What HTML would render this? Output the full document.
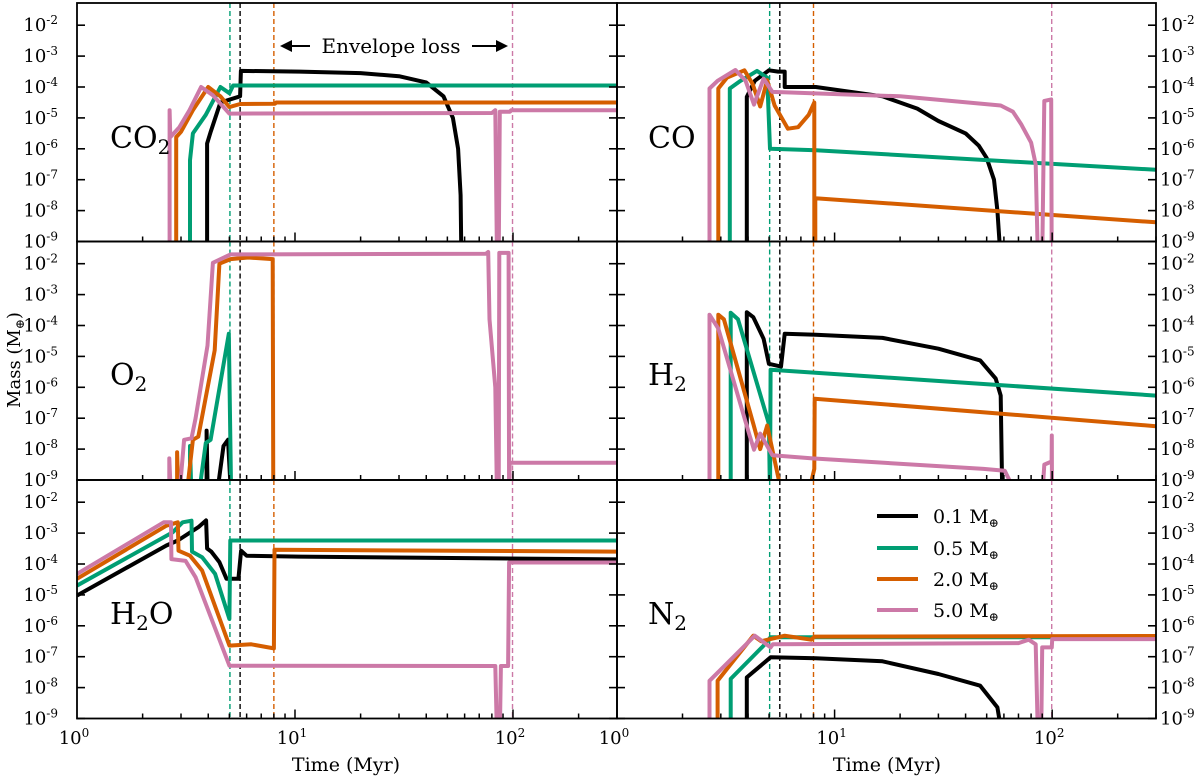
<!DOCTYPE html>
<html><head><meta charset="utf-8"><style>
html,body{margin:0;padding:0;background:#fff;}
svg{display:block;font-family:"DejaVu Serif","Liberation Serif",serif;}
</style></head><body>
<svg id="chart" width="1200" height="779" viewBox="0 0 1200 779" xmlns="http://www.w3.org/2000/svg">
<defs></defs>
</svg>
<script>
// ---- data: [time (Myr), log10 mass (M_earth)] ----
const seriesNames = ["0.1 M", "0.5 M", "2.0 M", "5.0 M"];
const seriesColors = ["#000000", "#009e73", "#d55e00", "#cc79a7"];
const envelopeLossTimes = [5.6, 5.03, 8.0, 99.5];
const yTickExponents = [-2, -3, -4, -5, -6, -7, -8, -9];
const xTickExponents = [0, 1, 2];

const CO2_black = [[3.95,-9.6],[3.95,-5.83],[4.1,-5.46],[4.55,-4.5],[5.6,-4.3],[5.65,-3.48],[10.5,-3.5],[20,-3.55],[30,-3.65],[40,-3.85],[48,-4.3],[53,-5],[56,-6],[57.5,-7.5],[58,-9.6]];
const CO2_green = [[3.3,-9.6],[3.3,-6.37],[3.4,-5.5],[3.9,-4.9],[4.55,-4.0],[5.0,-4.2],[5.2,-3.95],[300,-3.95]];
const CO2_orange = [[2.85,-9.6],[2.85,-5.62],[3.0,-5.45],[3.4,-4.75],[4.0,-4.0],[4.55,-4.3],[5.0,-4.65],[5.6,-4.55],[8.1,-4.54],[8.2,-4.5],[300,-4.5]];
const CO2_pink = [[2.66,-9.6],[2.66,-4.75],[2.68,-5.62],[2.95,-5.3],[3.28,-4.75],[3.71,-4.0],[4.2,-4.27],[5.0,-4.86],[80,-4.84],[83,-4.75],[84.5,-9.6],[86,-9.6],[87,-4.8],[97,-4.8],[98,-4.75],[300,-4.75]];

const CO_black = [[3.95,-9.6],[3.95,-4.32],[4.3,-3.8],[4.99,-3.46],[5.5,-3.5],[5.9,-3.5],[5.9,-4.0],[8.2,-4.0],[16.6,-4.3],[24,-4.7],[30,-5.1],[40,-5.5],[46,-5.9],[50,-6.3],[54,-7.0],[56,-8.0],[58,-9.6]];
const CO_green = [[3.3,-9.6],[3.3,-4.05],[3.7,-3.8],[4.4,-3.48],[4.9,-3.7],[5.05,-6.0],[8.2,-6.05],[300,-6.68]];
const CO_orange = [[2.92,-9.6],[2.92,-4.05],[3.2,-3.7],[3.85,-3.46],[4.2,-3.9],[4.55,-4.63],[4.9,-3.78],[5.3,-4.6],[6.1,-5.35],[6.8,-5.3],[7.6,-4.9],[8.07,-4.5],[8.07,-9.6],[8.15,-9.6],[8.15,-7.6],[300,-8.38]];
const CO_pink = [[2.66,-9.6],[2.66,-4.05],[2.9,-3.8],[3.5,-3.45],[3.9,-3.8],[4.26,-4.57],[4.72,-3.73],[5.18,-4.16],[20,-4.3],[58,-4.6],[66,-4.8],[72,-5.2],[80,-5.8],[84,-6.5],[86,-9.6],[90,-9.6],[92,-4.45],[99,-4.4],[99.5,-9.6]];

const O2_black = [[3.93,-9.6],[3.93,-7.4],[3.98,-9.6],[4.36,-9.6],[4.7,-7.9],[4.93,-7.7],[5.1,-9.6]];
const O2_green = [[3.3,-9.6],[3.3,-7.9],[3.35,-9.6],[3.6,-9.6],[3.9,-7.8],[4.1,-7.7],[4.97,-4.27],[5.1,-9.6]];
const O2_orange = [[2.88,-9.6],[2.88,-8.1],[2.92,-9.6],[3.17,-9.6],[3.4,-7.7],[3.6,-7.6],[4.28,-4.8],[4.5,-2.0],[5.06,-1.85],[6.1,-1.8],[7.9,-1.85],[7.95,-9.6]];
const O2_pink = [[2.65,-9.6],[2.65,-8.3],[2.7,-9.6],[2.94,-9.6],[3.1,-7.7],[3.35,-7.65],[3.5,-7.0],[3.97,-4.65],[4.2,-1.97],[5.06,-1.7],[75,-1.68],[77,-1.62],[78,-3.8],[83,-6],[84.5,-9.6],[86,-9.6],[86.5,-1.65],[95.5,-1.65],[96,-9.6],[96.5,-8.44],[300,-8.44]];

const H2_black = [[3.95,-9.6],[3.95,-3.57],[4.23,-3.73],[4.72,-4.43],[4.99,-5.24],[5.67,-5.33],[5.9,-4.27],[8.2,-4.3],[16.6,-4.4],[30,-4.75],[46.7,-5.13],[55,-5.72],[58,-6.27],[59,-9.6]];
const H2_green = [[3.33,-9.6],[3.33,-3.59],[3.6,-3.8],[4.99,-7.18],[5.05,-9.6],[5.08,-5.43],[300,-6.27]];
const H2_orange = [[2.92,-9.6],[2.92,-3.65],[3.1,-3.8],[4.23,-7.18],[4.55,-8.0],[4.9,-7.24],[5.78,-9.6],[7.5,-9.6],[8.07,-8.64],[8.1,-6.37],[300,-7.26]];
const H2_pink = [[2.66,-9.6],[2.66,-3.65],[2.92,-4.1],[4.07,-7.56],[4.26,-8.02],[4.55,-7.5],[5.18,-8.2],[7.9,-8.3],[48.4,-8.64],[60.5,-8.7],[70,-9.6],[90,-9.6],[92,-8.5],[99.4,-8.4],[99.6,-7.56],[99.8,-9.6]];

const H2O_black = [[1,-5.02],[2.57,-3.4],[2.9,-3.24],[3.6,-2.81],[3.91,-2.59],[3.95,-3.5],[4.13,-3.6],[4.5,-3.94],[4.85,-4.48],[5.5,-4.48],[5.66,-3.57],[6,-3.73],[10.4,-3.76],[300,-3.85]];
const H2O_green = [[1,-4.7],[2.75,-2.97],[3.05,-2.65],[3.35,-2.6],[3.37,-3.6],[3.75,-3.78],[4.3,-4.32],[5.0,-5.78],[5.05,-3.24],[300,-3.24]];
const H2O_orange = [[1,-4.48],[2.57,-2.76],[2.9,-2.65],[2.92,-3.57],[3.3,-3.73],[3.75,-4.21],[5.0,-6.64],[6.3,-6.6],[8.0,-6.73],[8.05,-3.54],[300,-3.6]];
const H2O_pink = [[1,-4.32],[2.5,-2.65],[2.7,-2.65],[2.71,-3.84],[3.15,-3.9],[3.5,-4.43],[5.0,-7.29],[83,-7.3],[84.5,-9.6],[87,-9.6],[88,-7.3],[95,-7.3],[96,-3.95],[300,-3.95]];

const N2_black = [[3.95,-9.6],[3.95,-7.67],[5.08,-7.02],[8.2,-7.05],[16.6,-7.15],[30,-7.56],[46.7,-7.94],[56,-8.64],[59,-9.6]];
const N2_green = [[3.33,-9.6],[3.33,-7.72],[4.72,-6.64],[5.08,-6.37],[300,-6.37]];
const N2_orange = [[2.9,-9.6],[2.9,-7.78],[4.23,-6.32],[4.6,-6.5],[5.9,-6.32],[7.8,-6.45],[8.1,-6.35],[300,-6.33]];
const N2_pink = [[2.66,-9.6],[2.66,-7.78],[4.3,-6.32],[5.08,-6.7],[5.2,-6.6],[70,-6.56],[78,-6.45],[84,-6.6],[86,-9.6],[89,-9.6],[90,-6.7],[99.6,-6.7],[100,-6.43],[300,-6.43]];

const NS = "http://www.w3.org/2000/svg";
const svg = document.getElementById("chart");
const defs = svg.querySelector("defs");
function mk(tag, attrs, parent) {
  const e = document.createElementNS(NS, tag);
  for (const k in attrs) e.setAttribute(k, attrs[k]);
  (parent || svg).appendChild(e);
  return e;
}

const panels = [
  {key:"co2", label:["CO","2"], col:0, row:0, series:[CO2_black,CO2_green,CO2_orange,CO2_pink], lx:110, ly:148},
  {key:"co", label:["CO",""], col:1, row:0, series:[CO_black,CO_green,CO_orange,CO_pink], lx:648, ly:148},
  {key:"o2", label:["O","2"], col:0, row:1, series:[O2_black,O2_green,O2_orange,O2_pink], lx:110, ly:385},
  {key:"h2", label:["H","2"], col:1, row:1, series:[H2_black,H2_green,H2_orange,H2_pink], lx:648, ly:385},
  {key:"h2o", label:["H","2","O"], col:0, row:2, series:[H2O_black,H2O_green,H2O_orange,H2O_pink], lx:110, ly:624},
  {key:"n2", label:["N","2"], col:1, row:2, series:[N2_black,N2_green,N2_orange,N2_pink], lx:648, ly:624}
];
const colX = [[77,617],[617,1156]];
const rowY = [[3,241.5],[241.5,480],[480,718.5]];
const DEC_Y = 30.9;
const LOGMAX = Math.log10(300);

panels.forEach(function(p, pi) {
  const x0 = colX[p.col][0], x1 = colX[p.col][1];
  const y0 = rowY[p.row][0], y1 = rowY[p.row][1];
  const xs = function(t){ return x0 + Math.log10(t) / LOGMAX * (x1 - x0); };
  const ys = function(v){ return y1 - (v + 9) * DEC_Y; };
  const g = mk("g", {});
  
  
  const cp = mk("clipPath", {id:"clip"+pi}, defs);
  mk("rect", {x:x0, y:y0, width:x1-x0, height:y1-y0}, cp);

  envelopeLossTimes.forEach(function(t, si) {
    const l = mk("line", {x1:xs(t), x2:xs(t), y1:y0, y2:y1, stroke:seriesColors[si], "stroke-width":1.4, "stroke-dasharray":"5,3"}, g);
    
    
  });
  const sg = mk("g", {"clip-path":"url(#clip"+pi+")"}, g);
  p.series.forEach(function(data, si) {
    const d = data.map(function(pt, i){ return (i ? "L" : "M") + xs(pt[0]).toFixed(1) + "," + ys(pt[1]).toFixed(1); }).join("");
    const path = mk("path", {d:d, fill:"none", stroke:seriesColors[si], "stroke-width":4, "stroke-linejoin":"round"}, sg);
    
    
  });
  const fr = mk("rect", {x:x0, y:y0, width:x1-x0, height:y1-y0, fill:"none", stroke:"#000", "stroke-width":1.8}, g);
  
  
  yTickExponents.forEach(function(e) {
    const y = ys(e);
    mk("line", {x1:x0, x2:x0+8, y1:y, y2:y, stroke:"#000", "stroke-width":1.6}, g);
    mk("line", {x1:x1, x2:x1-8, y1:y, y2:y, stroke:"#000", "stroke-width":1.6}, g);
    const tx = p.col === 0 ? 58 : 1160;
    const t = mk("text", {x:tx, y:y+6, "font-size":18, "text-anchor":p.col===0?"end":"start", fill:"#000"}, g);
    
    
    t.appendChild(document.createTextNode("10"));
    const s = mk("tspan", {"font-size":12, dy:-7}, t);
    s.textContent = "-" + (-e);
  });
  for (let dcd = 0; dcd <= 2; dcd++) {
    for (let m = 1; m <= 9; m++) {
      const t = m * Math.pow(10, dcd);
      if (t > 300) break;
      const x = xs(t);
      if (m === 1 && dcd === 0) continue;
      mk("line", {x1:x, x2:x, y1:y1, y2:y1-(m===1?9:5), stroke:"#000", "stroke-width":1.5}, g);
    }
  }
  if (p.row === 2) {
    xTickExponents.forEach(function(e) {
      const x = xs(Math.pow(10, e));
      const t = mk("text", {x:x-3, y:744, "font-size":18, "text-anchor":"middle", fill:"#000"}, g);
      
      
      t.appendChild(document.createTextNode("10"));
      const s = mk("tspan", {"font-size":12, dy:-7}, t);
      s.textContent = String(e);
    });
  }
  const lt = mk("text", {x:p.lx, y:p.ly, "font-size":30, fill:"#000"}, g);
  
  
  lt.appendChild(document.createTextNode(p.label[0]));
  if (p.label[1]) {
    const s = mk("tspan", {"font-size":20, dy:6}, lt);
    s.textContent = p.label[1];
  }
  if (p.label[2]) {
    const s2 = mk("tspan", {dy:-6}, lt);
    s2.textContent = p.label[2];
  }
});

["Time (Myr)", "Time (Myr)"].forEach(function(txt, i) {
  const t = mk("text", {x:i===0?346:887, y:771, "font-size":19, "text-anchor":"middle", fill:"#000"});
  
  
  t.textContent = txt;
});
const yt = mk("text", {x:0, y:0, "font-size":18, "text-anchor":"middle", fill:"#000", transform:"translate(20,360) rotate(-90)"});


yt.appendChild(document.createTextNode("Mass (M"));
const ys1 = mk("tspan", {"font-size":12, dy:4}, yt); ys1.textContent = "⊕";
const ys2 = mk("tspan", {dy:-4}, yt); ys2.textContent = ")";

const ann = mk("g", {});


mk("line", {x1:284, x2:310, y1:46, y2:46, stroke:"#000", "stroke-width":2}, ann);
mk("path", {d:"M280,46 L292,40 L292,52 Z", fill:"#000"}, ann);
mk("line", {x1:472, x2:500, y1:46, y2:46, stroke:"#000", "stroke-width":2}, ann);
mk("path", {d:"M508,46 L496,40 L496,52 Z", fill:"#000"}, ann);
const at = mk("text", {x:391, y:53, "font-size":20, "text-anchor":"middle", fill:"#000"}, ann);
at.textContent = "Envelope loss";

const legendY = [516, 548, 579, 610];
const lg = mk("g", {});


seriesNames.forEach(function(nm, i) {
  const e = mk("g", {}, lg);
  
  
  mk("line", {x1:877, x2:918, y1:legendY[i], y2:legendY[i], stroke:seriesColors[i], "stroke-width":4}, e);
  const t = mk("text", {x:933, y:legendY[i]+7, "font-size":19, fill:"#000"}, e);
  t.appendChild(document.createTextNode(nm));
  const s = mk("tspan", {"font-size":12, dy:4}, t); s.textContent = "⊕";
});
</script>
</body></html>
